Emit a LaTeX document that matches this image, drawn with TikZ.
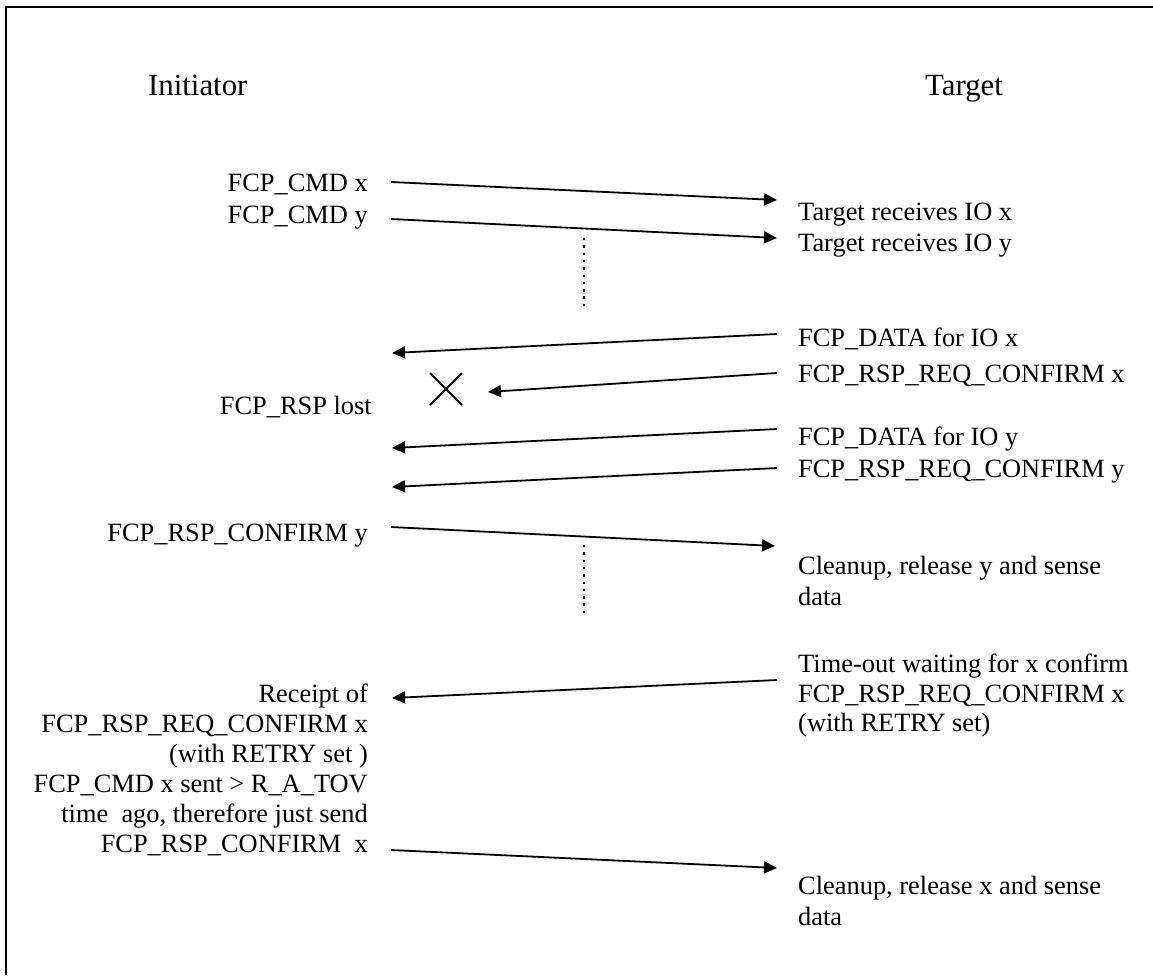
\documentclass[tikz,border=0pt]{standalone}
\usepackage{fontspec}
\setmainfont{Liberation Serif}
\usetikzlibrary{arrows.meta}
\begin{document}
\begin{tikzpicture}[x=1pt,y=-1pt,
  msg/.style={line width=1.8pt,-{Triangle[length=13pt,width=12pt]}},
  lbl/.style={inner sep=0pt,font=\fontsize{26.4}{30.3}\selectfont},
  lft/.style={lbl,anchor=base east},
  rgt/.style={lbl,anchor=base west},
  ttl/.style={inner sep=0pt,anchor=base west,font=\fontsize{30.8}{36}\selectfont},
  gap/.style={line width=2.2pt,dash pattern=on 2.4pt off 4.9pt},
  frameline/.style={line width=2pt},
  lostmark/.style={line width=1.8pt}]
\useasboundingbox (0,0) rectangle (1153,975);

% open frame: top and left edges
\draw[frameline] (5.7,975) -- (5.7,6.5) -- (1153,6.5);

% column headings
\node[ttl] (ini) at (148,95) {Initiator};
\node[ttl] (tgt) at (925,95) {Target};

% initiator side labels
\node[lft] (cmdx)  at (368,191) {FCP\_CMD x};
\node[lft] (cmdy)  at (368,223) {FCP\_CMD y};
\node[lft] (lost)  at (372,414) {FCP\_RSP lost};
\node[lft] (confy) at (368,541) {FCP\_RSP\_CONFIRM y};
\node[lft] (rc1) at (368,702) {Receipt of};
\node[lft] (rc2) at (368,732) {FCP\_RSP\_REQ\_CONFIRM x};
\node[lft] (rc3) at (368,762) {(with RETRY set~)};
\node[lft] (rc4) at (368,792) {FCP\_CMD x sent > R\_A\_TOV};
\node[lft] (rc5) at (368,822) {time~ ago, therefore just send};
\node[lft] (rc6) at (368,852) {FCP\_RSP\_CONFIRM~ x};

% target side labels
\node[rgt] (rcvx)  at (798,220) {Target receives IO x};
\node[rgt] (rcvy)  at (798,251) {Target receives IO y};
\node[rgt] (datx)  at (798,346) {FCP\_DATA for IO x};
\node[rgt] (reqx)  at (798,382) {FCP\_RSP\_REQ\_CONFIRM x};
\node[rgt] (daty)  at (798,445) {FCP\_DATA for IO y};
\node[rgt] (reqy)  at (798,477) {FCP\_RSP\_REQ\_CONFIRM y};
\node[rgt] (clny1) at (798,574) {Cleanup, release y and sense};
\node[rgt] (clny2) at (798,605) {data};
\node[rgt] (to1)   at (798,672) {Time-out waiting for x confirm};
\node[rgt] (to2)   at (798,702) {FCP\_RSP\_REQ\_CONFIRM x};
\node[rgt] (to3)   at (798,731) {(with RETRY set)};
\node[rgt] (clnx1) at (798,894) {Cleanup, release x and sense};
\node[rgt] (clnx2) at (798,925) {data};

% message end points
\coordinate (a0) at (391,182); \coordinate (a1) at (777,200);
\coordinate (b0) at (391,219); \coordinate (b1) at (777,238);
\coordinate (c0) at (777,334); \coordinate (c1) at (392,353);
\coordinate (d0) at (777,373); \coordinate (d1) at (488,392);
\coordinate (e0) at (777,429); \coordinate (e1) at (392,448);
\coordinate (f0) at (777,468); \coordinate (f1) at (392,487);
\coordinate (g0) at (391,527); \coordinate (g1) at (775,546);
\coordinate (h0) at (777,680); \coordinate (h1) at (392,698);
\coordinate (k0) at (391,850); \coordinate (k1) at (777,868);

\draw[msg] (a0) -- (a1);
\draw[msg] (b0) -- (b1);
\draw[msg] (c0) -- (c1);
\draw[msg] (d0) -- (d1);
\draw[msg] (e0) -- (e1);
\draw[msg] (f0) -- (f1);
\draw[msg] (g0) -- (g1);
\draw[msg] (h0) -- (h1);
\draw[msg] (k0) -- (k1);

% lost frame marker
\coordinate (xm) at (446,389);
\draw[lostmark] ([shift={(-16,-16)}]xm) -- ([shift={(16,16)}]xm)
                ([shift={(-16,16)}]xm) -- ([shift={(16,-16)}]xm);

% elapsed time gaps
\coordinate (p0) at (584,238); \coordinate (p1) at (584,310);
\coordinate (q0) at (584,545); \coordinate (q1) at (584,617);
\draw[gap] (p0) -- (p1);
\draw[gap] (q0) -- (q1);
\end{tikzpicture}
\end{document}
